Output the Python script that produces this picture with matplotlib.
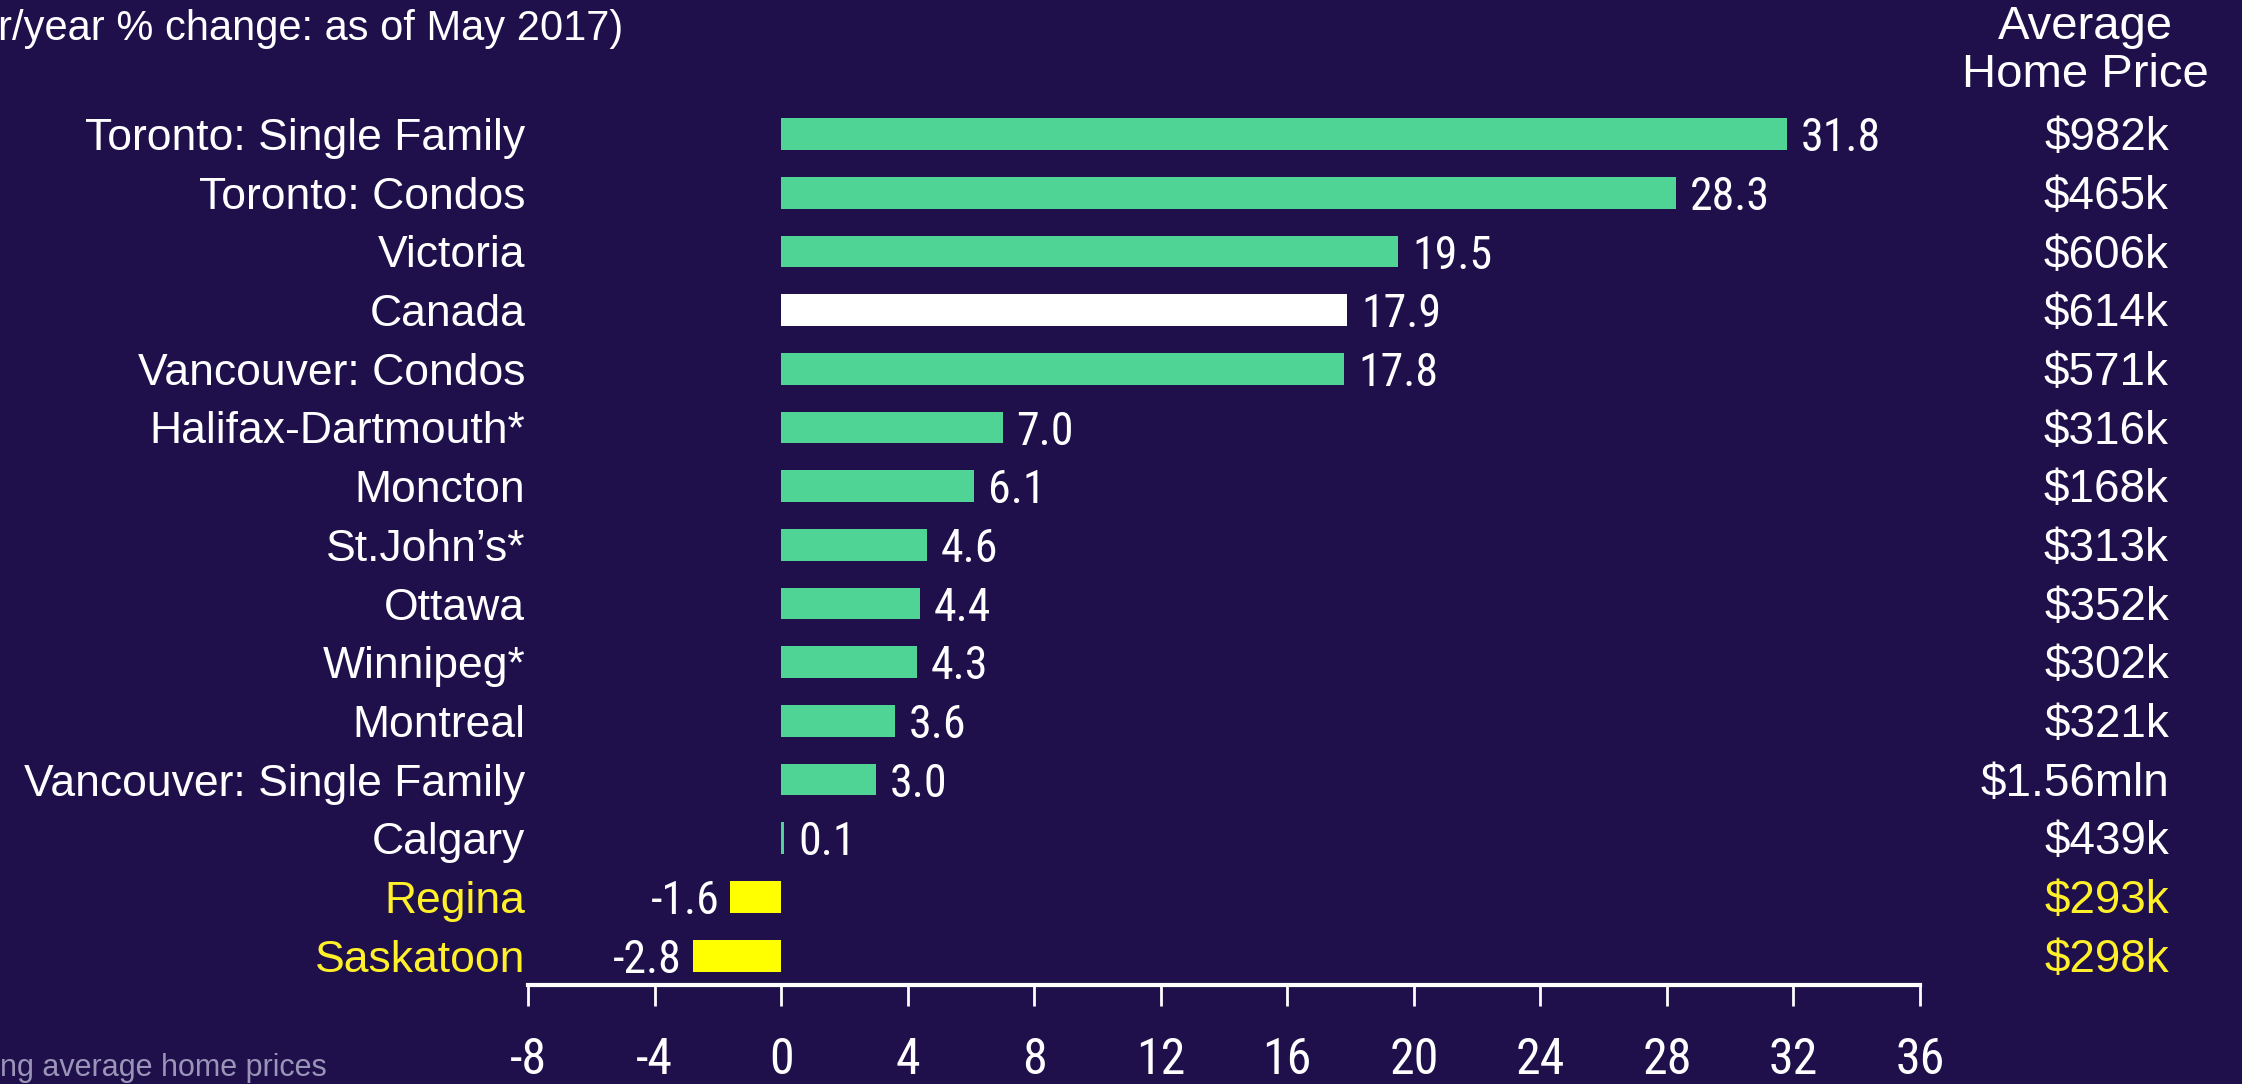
import matplotlib
matplotlib.use("Agg")
import matplotlib.pyplot as plt
import matplotlib.transforms as mtransforms
from matplotlib import font_manager
from matplotlib.font_manager import FontProperties

categories = ["Toronto: Single Family", "Toronto: Condos", "Victoria", "Canada",
              "Vancouver: Condos", "Halifax-Dartmouth*", "Moncton", "St.John\u2019s*",
              "Ottawa", "Winnipeg*", "Montreal", "Vancouver: Single Family",
              "Calgary", "Regina", "Saskatoon"]
changes = [31.8, 28.3, 19.5, 17.9, 17.8, 7.0, 6.1, 4.6, 4.4, 4.3, 3.6, 3.0, 0.1, -1.6, -2.8]
prices = ["$982k", "$465k", "$606k", "$614k", "$571k", "$316k", "$168k", "$313k",
          "$352k", "$302k", "$321k", "$1.56mln", "$439k", "$293k", "$298k"]
xticks = [-8, -4, 0, 4, 8, 12, 16, 20, 24, 28, 32, 36]
title_text = "r/year % change: as of May 2017)"
header_lines = ["Average", "Home Price"]
footnote = "ng average home prices"

BG = "#1f104c"
GREEN = "#4fd495"
YELLOW_BAR = "#ffff00"
YELLOW_TXT = "#fff02a"
WHITE = "#ffffff"

# pick a narrow font for the numbers
fl = font_manager.fontManager.ttflist
names = {f.name for f in fl}
narrow_prop = None
for cand in ["Liberation Sans Narrow", "Roboto Condensed", "Open Sans Condensed",
             "Noto Sans Condensed", "DejaVu Sans Condensed"]:
    if cand in names:
        narrow_prop = dict(fontfamily=cand)
        break
if narrow_prop is None:
    cond = [f for f in fl if f.name in ("DejaVu Sans", "Noto Sans", "Open Sans", "Roboto")
            and str(f.stretch) in ("condensed", "semi-condensed", "extra-condensed", "75", "87")
            and f.weight in (400, "normal") and f.style == "normal"]
    if cond:
        narrow_prop = dict(fontfamily=cond[0].name, fontstretch=cond[0].stretch)
    else:
        narrow_prop = dict(fontfamily="DejaVu Sans", fontstretch="condensed")
sans = "Liberation Sans"

W, H = 2242, 1084
fig = plt.figure(figsize=(W / 100, H / 100), dpi=100, facecolor=BG)
ax = fig.add_axes([528 / W, 1 - 985 / H, (1920 - 528) / W, (985 - 104.7) / H])
ax.set_facecolor(BG)

ypos = list(range(len(categories)))
colors = []
for c, v in zip(categories, changes):
    if c == "Canada":
        colors.append(WHITE)
    elif v < 0:
        colors.append(YELLOW_BAR)
    else:
        colors.append(GREEN)
ax.barh(ypos, changes, height=0.54, color=colors, edgecolor="none")

ax.set_xlim(-8, 36)
ax.set_ylim(14.5, -0.5)
ax.set_xticks(xticks)
ax.set_xticklabels([str(t) for t in xticks], fontsize=36, color=WHITE, **narrow_prop)
ax.tick_params(axis="x", direction="out", length=15, width=2, color=WHITE, pad=22)
ax.set_yticks(ypos)
ax.set_yticklabels(categories, fontfamily=sans, fontsize=32)
ax.tick_params(axis="y", length=0, pad=2)
for lbl, v in zip(ax.get_yticklabels(), changes):
    lbl.set_color(YELLOW_TXT if v < 0 else WHITE)

for side in ["top", "right", "left"]:
    ax.spines[side].set_visible(False)
ax.spines["bottom"].set_color(WHITE)
ax.spines["bottom"].set_linewidth(3)

# value labels
for y, v in zip(ypos, changes):
    if v >= 0:
        ax.annotate(f"{v:.1f}", xy=(v, y), xytext=(10, -3), textcoords="offset points",
                    ha="left", va="center", fontsize=33, color=WHITE, **narrow_prop)
    else:
        ax.annotate(f"{v:.1f}", xy=(v, y), xytext=(-8, -3), textcoords="offset points",
                    ha="right", va="center", fontsize=33, color=WHITE, **narrow_prop)

# price column
trans = mtransforms.blended_transform_factory(fig.transFigure, ax.transData)
for y, p, v in zip(ypos, prices, changes):
    ax.annotate(p, xy=(2169 / W, y), xycoords=trans, xytext=(0, -3), textcoords="offset points",
                ha="right", va="center", fontfamily=sans, fontsize=33,
                color=YELLOW_TXT if v < 0 else WHITE, annotation_clip=False)

fig.text(2085 / W, 1 - 27 / H, header_lines[0], ha="center", va="center",
         fontfamily=sans, fontsize=34, color=WHITE)
fig.text(2085 / W, 1 - 75 / H, header_lines[1], ha="center", va="center",
         fontfamily=sans, fontsize=34, color=WHITE)

fig.text(-2 / W, 1 - 29 / H, title_text, ha="left", va="center",
         fontfamily=sans, fontsize=30, color=WHITE)
fig.text(0 / W, 1 - 1076 / H, footnote, ha="left", va="baseline",
         fontfamily=sans, fontsize=22, color="#9a95b8")

fig.savefig("out.png", dpi=100, facecolor=BG)
